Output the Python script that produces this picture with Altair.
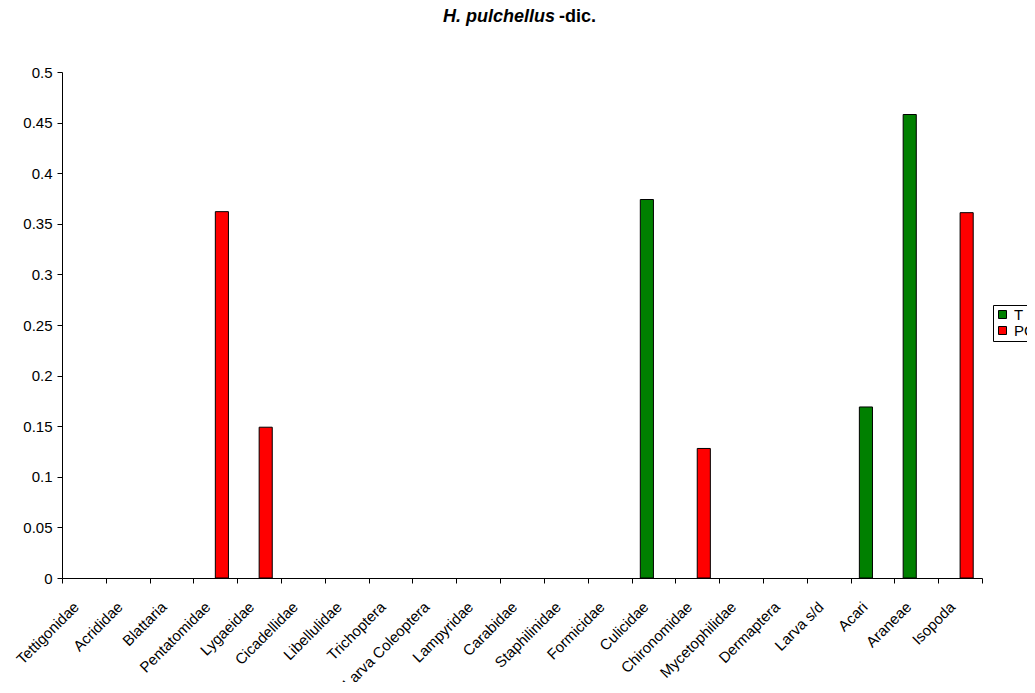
import altair as alt
import pandas as pd

categories = ["Tettigonidae", "Acrididae", "Blattaria", "Pentatomidae", "Lygaeidae",
              "Cicadellidae", "Libellulidae", "Trichoptera", "Larva Coleoptera", "Lampyridae",
              "Carabidae", "Staphilinidae", "Formicidae", "Culicidae", "Chironomidae",
              "Mycetophilidae", "Dermaptera", "Larva s/d", "Acari", "Araneae", "Isopoda"]
t_values = [0, 0, 0, 0, 0, 0, 0, 0, 0, 0, 0, 0, 0, 0.374, 0, 0, 0, 0, 0.169, 0.458, 0]
pc_values = [0, 0, 0, 0.362, 0.149, 0, 0, 0, 0, 0, 0, 0, 0, 0, 0.128, 0, 0, 0, 0, 0, 0.361]
series = ["T", "PC"]
colors = ["#008000", "#FF0000"]
y_ticks = [0, 0.05, 0.1, 0.15, 0.2, 0.25, 0.3, 0.35, 0.4, 0.45, 0.5]

rows = []
for c, tv, pv in zip(categories, t_values, pc_values):
    rows.append({"cat": c, "serie": "T", "value": tv})
    rows.append({"cat": c, "serie": "PC", "value": pv})
df = pd.DataFrame(rows)

FONT = "Liberation Sans"

bars = alt.Chart(df).transform_filter("datum.value > 0").mark_bar(
    stroke="black", strokeWidth=1
).encode(
    x=alt.X("cat:N", sort=categories,
            scale=alt.Scale(domain=categories, paddingInner=0, paddingOuter=0),
            axis=alt.Axis(title=None, labelAngle=-45, tickBand="extent", labelFont=FONT,
                          labelFontSize=15, labelColor="black", domainColor="black",
                          tickColor="black", tickSize=5, labelPadding=21, labelOffset=-8,
                          labelBaseline="middle", labelAlign="right", grid=False)),
    xOffset=alt.XOffset("serie:N", sort=series,
                        scale=alt.Scale(domain=series, paddingInner=0, paddingOuter=0.67)),
    y=alt.Y("value:Q", scale=alt.Scale(domain=[0, 0.5], nice=False),
            axis=alt.Axis(title=None, values=y_ticks, format=".2~f", labelFont=FONT,
                          labelFontSize=15, labelColor="black", domainColor="black",
                          tickColor="black", tickSize=5, labelPadding=5, grid=False)),
    color=alt.Color("serie:N", sort=series,
                    scale=alt.Scale(domain=series, range=colors),
                    legend=alt.Legend(title=None, orient="none", legendX=931, legendY=233,
                                      symbolType="square", symbolSize=64,
                                      symbolStrokeColor="black", symbolStrokeWidth=1,
                                      labelFont=FONT, labelFontSize=15, labelColor="black",
                                      strokeColor="black", padding=2, rowPadding=0,
                                      labelOffset=4, fillColor="white")),
)

title1 = alt.Chart(alt.Data(values=[{}])).mark_text(
    text="H. pulchellus", font=FONT, fontSize=18, fontWeight="bold", fontStyle="italic",
    align="right", baseline="alphabetic", color="black"
).encode(x=alt.value(493), y=alt.value(-50))

title2 = alt.Chart(alt.Data(values=[{}])).mark_text(
    text="-dic.", font=FONT, fontSize=18, fontWeight="bold",
    align="left", baseline="alphabetic", color="black"
).encode(x=alt.value(497), y=alt.value(-50))

chart = alt.layer(bars, title1, title2).properties(
    width=920, height=506,
    autosize=alt.AutoSizeParams(type="none"),
    padding={"left": 54, "top": 64, "right": 45, "bottom": 104},
).configure_view(stroke=None)

chart.save("out.html", embed_options={"renderer": "svg", "actions": False})
